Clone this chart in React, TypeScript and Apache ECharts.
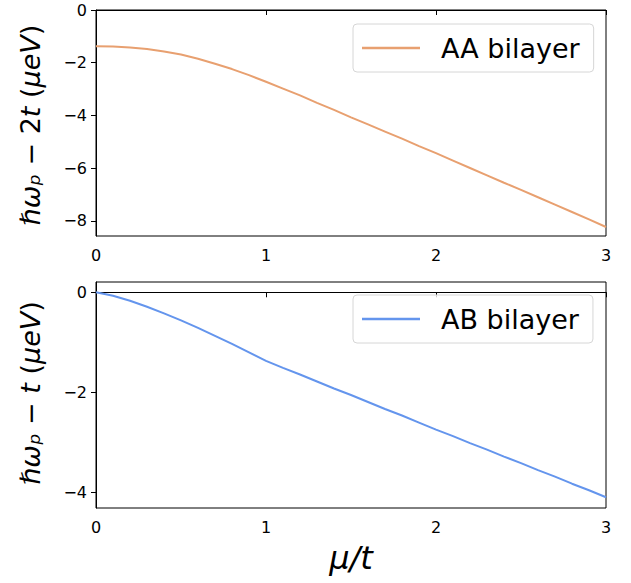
import React, { useEffect, useRef } from "react";
import * as echarts from "echarts";

const muOverT = [0, 0.1, 0.2, 0.3, 0.4, 0.5, 0.6, 0.7, 0.8, 0.9, 1.0, 1.1, 1.2, 1.3, 1.4, 1.5, 1.6, 1.7, 1.8, 1.9, 2.0, 2.1, 2.2, 2.3, 2.4, 2.5, 2.6, 2.7, 2.8, 2.9, 3.0];
const aaValues = [-1.37, -1.38, -1.42, -1.48, -1.57, -1.69, -1.85, -2.04, -2.24, -2.47, -2.72, -2.98, -3.24, -3.52, -3.79, -4.07, -4.34, -4.61, -4.88, -5.16, -5.43, -5.71, -5.99, -6.27, -6.55, -6.82, -7.1, -7.38, -7.66, -7.94, -8.23];
const abValues = [0, -0.07, -0.17, -0.29, -0.42, -0.56, -0.71, -0.87, -1.03, -1.2, -1.37, -1.51, -1.64, -1.78, -1.92, -2.05, -2.19, -2.33, -2.46, -2.6, -2.74, -2.87, -3.01, -3.14, -3.28, -3.41, -3.55, -3.68, -3.82, -3.95, -4.09];
const xTicks = [0, 1, 2, 3];
const aaTicks = [0, -2, -4, -6, -8];
const abTicks = [0, -2, -4];
const seriesNames = ["AA bilayer", "AB bilayer"];

const FONT = "DejaVu Sans";
const fmt = (v: number) => (v < 0 ? "\u2212" + Math.abs(v) : String(v));

export default function App() {
  const ref = useRef<HTMLDivElement>(null);
  useEffect(() => {
    if (!ref.current) return;
    document.body.style.margin = "0";
    const chart = echarts.init(ref.current, undefined, { renderer: "svg" });
    const axisLine = { show: true, lineStyle: { color: "#000", width: 1 } };
    const axisTick = { show: true, length: 5, lineStyle: { color: "#000", width: 1 } };
    const label = { color: "#000", fontFamily: FONT, fontSize: 16 };
    const xAxisBase = (gi: number) => ({
      type: "value",
      gridIndex: gi,
      min: 0,
      max: 3,
      interval: 1,
      axisLine,
      axisTick: { ...axisTick, customValues: xTicks },
      axisLabel: { ...label, margin: 11, customValues: xTicks, formatter: fmt },
      splitLine: { show: false },
    });
    const legendBase = {
      orient: "horizontal",
      left: 353,
      itemWidth: 58,
      itemHeight: 2.5,
      itemGap: 0,
      icon: "rect",
      padding: [10, 14, 10, 9],
      borderColor: "#d6d6d6",
      borderWidth: 1,
      borderRadius: 4,
      backgroundColor: "rgba(255,255,255,0.8)",
      textStyle: { fontFamily: FONT, fontSize: 27, color: "#000", padding: [0, 0, 0, 16], lineHeight: 28 },
    };
    chart.setOption({
      animation: false,
      backgroundColor: "#fff",
      grid: [
        { left: 96, top: 10, width: 510, height: 226, show: true, borderColor: "#000", borderWidth: 1, backgroundColor: "transparent" },
        { left: 96, top: 282, width: 510, height: 226, show: true, borderColor: "#000", borderWidth: 1, backgroundColor: "transparent" },
      ],
      legend: [
        { ...legendBase, top: 24, data: [seriesNames[0]] },
        { ...legendBase, top: 295, data: [seriesNames[1]] },
      ],
      xAxis: [xAxisBase(0), xAxisBase(1)],
      yAxis: [
        {
          type: "value",
          gridIndex: 0,
          min: -8.57,
          max: 0,
          axisLine,
          axisTick: { ...axisTick, customValues: aaTicks },
          axisLabel: { ...label, margin: 9, customValues: aaTicks, formatter: fmt },
          splitLine: { show: false },
        },
        {
          type: "value",
          gridIndex: 1,
          min: -4.305,
          max: 0.205,
          axisLine,
          axisTick: { ...axisTick, customValues: abTicks },
          axisLabel: { ...label, margin: 9, customValues: abTicks, formatter: fmt },
          splitLine: { show: false },
        },
      ],
      series: [
        {
          name: seriesNames[0],
          type: "line",
          xAxisIndex: 0,
          yAxisIndex: 0,
          data: muOverT.map((x, i) => [x, aaValues[i]]),
          showSymbol: false,
          smooth: false,
          lineStyle: { color: "#E8A070", width: 2 },
          itemStyle: { color: "#E8A070" },
        },
        {
          name: seriesNames[1],
          type: "line",
          xAxisIndex: 1,
          yAxisIndex: 1,
          data: muOverT.map((x, i) => [x, abValues[i]]),
          showSymbol: false,
          smooth: false,
          lineStyle: { color: "#6495ED", width: 2 },
          itemStyle: { color: "#6495ED" },
        },
      ],
      graphic: [
        {
          type: "text",
          x: 30,
          y: 125,
          rotation: Math.PI / 2,
          style: {
            text: "{i|\u210F\u03C9\u209A} {n|\u2212 2}{i|t} {n|(}{i|\u03BCeV}{n|)}",
            align: "center",
            verticalAlign: "middle",
            fill: "#000",
            fontFamily: FONT,
            fontSize: 27,
            rich: {
              i: { fontFamily: FONT, fontSize: 27, fontStyle: "italic", fill: "#000" },
              n: { fontFamily: FONT, fontSize: 27, fill: "#000" },
            },
          },
        },
        {
          type: "text",
          x: 30,
          y: 393,
          rotation: Math.PI / 2,
          style: {
            text: "{i|\u210F\u03C9\u209A} {n|\u2212 }{i|t} {n|(}{i|\u03BCeV}{n|)}",
            align: "center",
            verticalAlign: "middle",
            fill: "#000",
            fontFamily: FONT,
            fontSize: 27,
            rich: {
              i: { fontFamily: FONT, fontSize: 27, fontStyle: "italic", fill: "#000" },
              n: { fontFamily: FONT, fontSize: 27, fill: "#000" },
            },
          },
        },
        {
          type: "text",
          x: 351,
          y: 558,
          style: {
            text: "\u03BC/t",
            align: "center",
            verticalAlign: "middle",
            fill: "#000",
            fontFamily: FONT,
            fontSize: 32,
            fontStyle: "italic",
          },
        },
      ],
    });
    return () => chart.dispose();
  }, []);
  return <div ref={ref} style={{ width: 631, height: 583 }} />;
}
